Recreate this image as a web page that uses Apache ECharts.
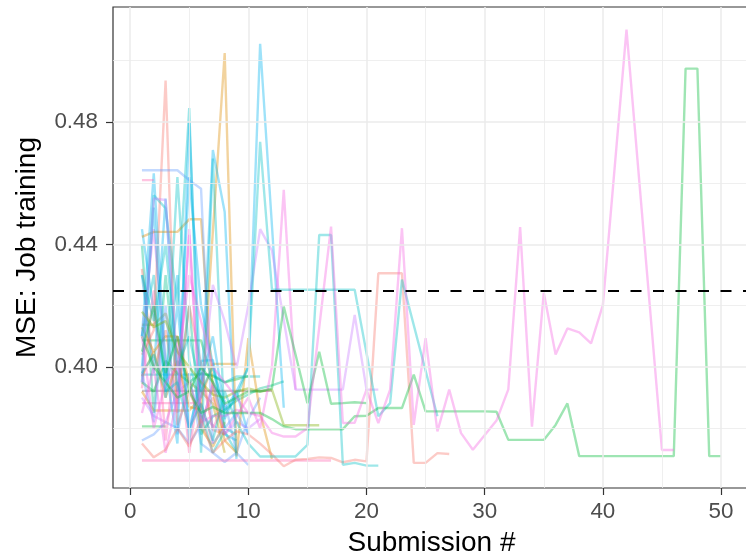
<!DOCTYPE html>
<html><head><meta charset="utf-8">
<script src="https://cdn.jsdelivr.net/npm/echarts@6/dist/echarts.min.js"></script>
<style>html,body{margin:0;padding:0;background:#fff}#c{width:746px;height:556px}</style>
</head><body><div id="c"></div>
<script>
// ---- axis ticks / reference ----
const xTicks = [0, 10, 20, 30, 40, 50];
const xMinor = [5, 15, 25, 35, 45];
const yTicks = [0.40, 0.44, 0.48];
const yMinor = [0.38, 0.42, 0.46, 0.50];
const baseline = 0.425;

// ---- series values (MSE by submission #, starting at submission 1; null = no submission) ----
const sPinkLong = [0.410,0.380,0.395,0.400,0.430,0.415,0.400,0.395,0.390,0.385,0.384,0.3785,0.3773,0.3773,0.380,null,0.4458,0.3817,0.3818,0.3926,0.3817,0.3926,0.4453,0.3811,0.4094,0.3790,0.3926,0.3784,0.3730,null,0.3825,0.3927,0.4457,0.3805,0.4242,0.4041,0.4126,0.4113,0.4077,0.4202,null,0.5101,null,null,0.3729,0.3729];
const sGreenLong = [0.410,0.400,0.395,0.390,0.392,0.385,0.387,0.385,0.385,0.385,0.385,0.383,0.3806,0.3797,0.3797,0.3797,0.3797,0.3797,0.3839,0.3841,0.3866,0.3866,0.3866,0.3975,0.3855,0.3855,0.3855,0.3855,0.3855,0.3855,0.3854,0.3762,0.3762,0.3762,0.3762,0.3811,0.3881,0.3709,0.3709,0.3709,0.3709,0.3709,0.3709,0.3709,0.3709,0.3709,0.4974,0.4974,0.3709,0.3709];
const sGreen20 = [0.405,0.420,0.398,0.410,0.392,0.400,0.395,0.388,0.390,0.392,0.392,0.393,0.4197,0.4040,0.3882,0.4050,0.3880,0.3882,0.3885,0.3882];
const sTeal26 = [0.430,0.415,0.440,0.400,0.410,0.392,0.400,0.385,0.390,0.400,0.4735,0.4252,0.4252,0.4252,0.4252,0.4252,0.4252,0.4252,0.4252,null,0.3839,0.3882,0.4285,null,null,0.3839];
const sTeal21 = [0.398,0.404,0.392,0.395,0.380,0.388,0.376,0.392,0.382,0.375,0.3708,0.3708,0.3708,0.3708,0.3746,0.4431,0.4431,0.3681,0.3687,0.3678,0.3678];
const sSalmon27 = [0.375,0.3705,0.373,0.380,0.374,0.383,0.372,0.376,0.379,0.378,0.375,0.3715,0.3676,0.3697,0.3700,0.3705,0.3703,0.3689,0.3697,0.3692,0.4306,0.4306,0.4306,0.3687,0.3687,0.3719,0.3716];
const sPinkFlat17 = [0.3695,0.3695,0.3695,0.3695,0.3695,0.3695,0.3695,0.3695,0.3695,0.3695,0.3695,0.3695,0.3695,0.3695,0.3695,0.3695,0.3695];
const sPurple21 = [0.395,0.455,0.4545,0.400,0.380,0.390,0.4268,0.415,0.3996,0.420,0.445,0.438,null,0.3926,0.3926,0.3926,0.3926,0.3926,0.4170,0.3926,0.3926];
const sSpike13 = [0.385,0.400,0.372,0.390,0.4431,0.380,0.395,0.378,0.384,0.390,0.380,0.400,0.4578,0.3926];
const sLime16 = [0.418,0.413,0.415,0.405,0.400,0.395,0.391,0.390,0.392,0.393,0.392,0.3926,0.3810,0.3810,0.3810,0.3810];
const sSalmon8 = [0.404,0.412,0.4935,0.381,0.392,0.383,0.390,0.378];
const sOrangePlat = [0.4425,0.4441,0.4441,0.4441,0.4482,0.4482,0.392,0.376,0.372];
const sOrangeSpike = [0.397,0.405,0.390,0.402,0.387,0.386,null,0.5025,0.3708,0.4094,0.385,0.370];
const sCyan13 = [0.400,0.452,0.390,0.420,0.380,0.395,0.410,0.386,0.392,0.400,0.5055,null,0.3867];
const sTeal9 = [0.395,0.456,0.4518,0.420,0.4845,0.372,0.468,0.380,0.378];
const sCyan9 = [0.410,0.4632,0.400,0.375,0.480,0.390,0.4708,0.4506,0.370];
const sBlue10 = [0.4642,0.4642,0.4642,0.4642,0.4610,0.4582,0.375,0.380,0.385,0.378];
const sPink2 = [0.461,0.461];
const sGrey12 = [0.3922,0.3922,0.3922,0.3922,0.3922,0.3922,0.3922,0.3922,0.3922,0.3922,0.3922,0.3922];
const sGreen8 = [0.4087,0.4087,0.4087,0.4087,0.4087,0.4087,0.395,0.380];
const sTeal11 = [0.3975,0.3975,0.3975,0.3975,0.3975,0.3975,0.3975,0.395,0.3969,0.3969,0.3969];
const sPink7 = [0.3882,0.3882,0.3882,0.3882,0.3882,0.3882,0.375];
const sGreen3 = [0.3806,0.3806,0.3806];
const sOrange9 = [0.392,0.3858,0.3858,0.3858,0.3858,0.390,0.401,0.401,0.401];
const sOlive8 = [0.4138,0.4138,0.4175,0.405,0.395,0.392,0.388,0.372];
const sCyan10 = [0.445,0.418,0.395,0.430,0.376,0.402,0.4023,0.383,0.392,0.378];
const sBlue11 = [0.376,0.378,0.382,0.380,0.375,0.381,0.394,0.389,0.372,0.383,0.390];
const sViolet11 = [0.390,0.384,0.382,0.392,0.395,0.384,0.381,0.378,0.382,0.380,0.383];
const sMint13 = [0.440,0.385,0.430,0.392,0.420,0.378,0.3839,0.386,0.389,0.391,0.393,0.394,0.3953];
const sRose8 = [0.393,0.425,0.376,0.410,0.372,0.398,0.380,0.388];
const sSalmonB8 = [0.432,0.399,0.412,0.388,0.420,0.401,0.3795,0.378];
const sCyanB9 = [0.430,0.398,0.455,0.392,0.462,0.420,0.401,0.378,0.376];
const sGreenB10 = [0.395,0.392,0.402,0.398,0.395,0.398,0.397,0.395,0.396,0.397];
const sMagenta10 = [0.410,0.445,0.402,0.385,0.445,0.382,0.384,0.384,0.386,0.385];
const sOrangeB8 = [0.413,0.405,0.410,0.410,0.395,0.380,0.374,0.382];
const sBlueB10 = [0.398,0.382,0.420,0.378,0.398,0.375,0.372,0.369,0.372,0.368];
const sTealB9 = [0.410,0.430,0.392,0.462,0.402,0.385,0.372,0.379,0.372];

const seriesList = [
  [sGrey12, '#7E6470'],
  [sGreen8, '#00BA38'], [sTeal11, '#00BFC4'], [sPink7, '#FF64B0'], [sGreen3, '#00BA38'],
  [sOrange9, '#DE8C00'], [sOlive8, '#B79F00'], [sCyan10, '#00B4F0'], [sBlue11, '#619CFF'],
  [sViolet11, '#C77CFF'], [sMint13, '#00C08B'], [sRose8, '#FF64B0'], [sSalmonB8, '#F8766D'],
  [sCyanB9, '#00B4F0'], [sGreenB10, '#00BA38'], [sMagenta10, '#F564E3'], [sOrangeB8, '#DE8C00'],
  [sBlueB10, '#619CFF'], [sTealB9, '#00BFC4'],
  [sSalmon8, '#F8766D'], [sOrangePlat, '#DE8C00'], [sOrangeSpike, '#DE8C00'], [sCyan13, '#00B4F0'],
  [sTeal9, '#00BFC4'], [sCyan9, '#00B4F0'], [sBlue10, '#619CFF'], [sPink2, '#FF64B0'],
  [sLime16, '#7CAE00'], [sSpike13, '#F564E3'], [sPurple21, '#C77CFF'], [sPinkFlat17, '#FF64B0'],
  [sSalmon27, '#F8766D'], [sTeal21, '#00BFC4'], [sTeal26, '#00BFC4'], [sGreen20, '#00BA38'],
  [sGreenLong, '#00BA38'], [sPinkLong, '#F564E3']
];

const toPairs = arr => arr.map((v, i) => [i + 1, v]).filter(p => p[1] !== null);

const FONT = 'Liberation Sans, Arial, Helvetica, sans-serif';
const series = [];

// grid lines (drawn through axis scales via markLine)
const gridLines = [];
xMinor.forEach(v => gridLines.push({xAxis: v, lineStyle: {width: 0.8}}));
yMinor.forEach(v => gridLines.push({yAxis: v, lineStyle: {width: 0.8}}));
xTicks.forEach(v => gridLines.push({xAxis: v, lineStyle: {width: 1.5}}));
yTicks.forEach(v => gridLines.push({yAxis: v, lineStyle: {width: 1.5}}));
series.push({
  type: 'line', data: [[0, 0.40]], showSymbol: false, lineStyle: {opacity: 0}, z: 1, silent: true,
  markLine: {silent: true, symbol: 'none', precision: 6, label: {show: false}, animation: false,
    lineStyle: {color: '#EBEBEB', type: 'solid'}, data: gridLines}
});

seriesList.forEach(([arr, col]) => {
  series.push({
    type: 'line', data: toPairs(arr), showSymbol: false, symbol: 'none', z: 2, silent: true,
    lineStyle: {color: col, width: 2.4, opacity: 0.38}, itemStyle: {color: col},
    emphasis: {disabled: true}
  });
});

series.push({
  type: 'line', data: [[0, baseline]], showSymbol: false, lineStyle: {opacity: 0}, z: 5, silent: true,
  markLine: {silent: true, symbol: 'none', precision: 6, label: {show: false}, animation: false,
    lineStyle: {color: '#000', width: 2, type: [11, 11.5]}, data: [{yAxis: baseline}]}
});

const chart = echarts.init(document.getElementById('c'), null, {renderer: 'canvas'});
chart.setOption({
  animation: false,
  backgroundColor: '#fff',
  grid: {left: 113, right: -4, top: 7, bottom: 68, show: true, borderColor: '#333333', borderWidth: 1.2,
    backgroundColor: '#fff', containLabel: false, outerBoundsMode: 'none'},
  xAxis: {
    type: 'value', min: -1.45, max: 52.45,
    axisLine: {show: false, onZero: false},
    axisTick: {show: true, customValues: xTicks, length: 7, lineStyle: {color: '#333333', width: 1.2}},
    axisLabel: {customValues: xTicks, color: '#4D4D4D', fontSize: 22.4, margin: 13, fontFamily: FONT,
      formatter: v => (Math.abs(v / 10 - Math.round(v / 10)) < 1e-6 ? String(Math.round(v)) : '')},
    splitLine: {show: false},
    name: 'Submission #', nameLocation: 'middle', nameGap: 41,
    nameTextStyle: {color: '#000', fontSize: 28, fontFamily: FONT}
  },
  yAxis: {
    type: 'value', min: 0.3605, max: 0.5175,
    axisLine: {show: false, onZero: false},
    axisTick: {show: true, customValues: yTicks, length: 7, lineStyle: {color: '#333333', width: 1.2}},
    axisLabel: {customValues: yTicks, color: '#4D4D4D', fontSize: 22.4, margin: 15, fontFamily: FONT,
      formatter: v => v.toFixed(2)},
    splitLine: {show: false},
    name: 'MSE: Job training', nameLocation: 'middle', nameGap: 72, nameRotate: 90,
    nameTextStyle: {color: '#000', fontSize: 28, fontFamily: FONT}
  },
  series: series
});
</script>
</body></html>
